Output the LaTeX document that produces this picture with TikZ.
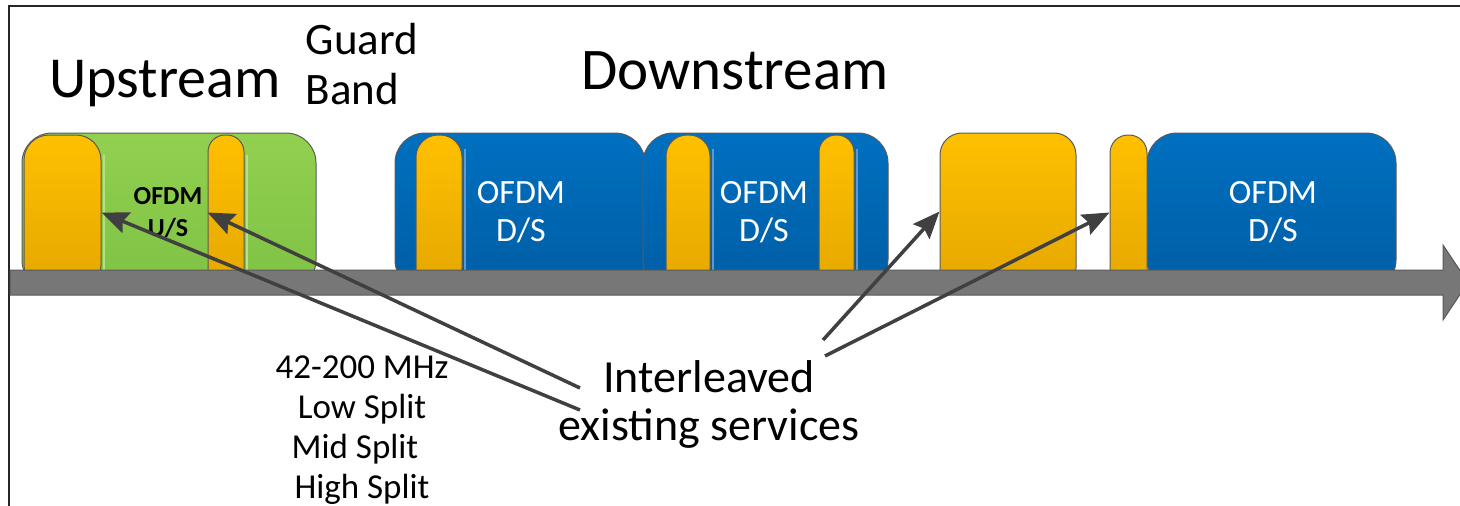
\documentclass[tikz,border=0pt]{standalone}
\usepackage{fontspec}
\setmainfont{Carlito}
\usetikzlibrary{arrows.meta,calc}

\definecolor{usgreen}{HTML}{92D050}
\definecolor{usgreendk}{HTML}{7EC244}
\definecolor{usglint}{HTML}{B4E08A}
\definecolor{svcorange}{HTML}{FFC000}
\definecolor{svcorangedk}{HTML}{E4A700}
\definecolor{dsblue}{HTML}{0070C0}
\definecolor{dsbluedk}{HTML}{005DA4}
\definecolor{dsglint}{HTML}{5B9BD5}
\definecolor{edgegray}{HTML}{5A5A5A}
\definecolor{axisgray}{HTML}{777777}
\definecolor{pointer}{HTML}{404040}

\begin{document}
\begin{tikzpicture}[x=1pt, y=-1pt,
        band/.style={draw=edgegray, line width=1pt, rounded corners=30pt, inner sep=0pt, minimum height=157pt},
        usband/.style={band, top color=usgreen, bottom color=usgreendk},
        dsband/.style={band, top color=dsblue, bottom color=dsbluedk},
        svcbar/.style={draw=edgegray, line width=1pt, inner sep=0pt, minimum height=155pt,
            top color=svcorange, bottom color=svcorangedk},
        usline/.style={draw=usglint, line width=2pt},
        dsline/.style={draw=dsglint, line width=2pt},
        dslabel/.style={text=white, align=center, font=\fontsize{34}{38}\selectfont},
        pointto/.style={draw=pointer, line width=3.5pt, -{Stealth[length=27pt, width=22pt, inset=4pt]}},
    ]
                \useasboundingbox (0,0) rectangle (1460,506);

                % Frame
                \draw[line width=2.5pt, black!85] (9,506) -- (9,6) -- (1460,6);

                % Upstream band
                \node[usband, minimum width=294pt] (us) at (169,211.5) {};
                \node[svcbar, minimum width=77pt, rounded corners=25pt] (u1) at (62.5,212.5) {};
                \node[svcbar, minimum width=36pt, rounded corners=17pt] (u2) at (226,212.5) {};
                \draw[usline] ([xshift=2pt,yshift=-20pt]u1.north east) -- ([xshift=2pt]u1.south east);
                \draw[usline] ([xshift=2pt,yshift=-20pt]u2.north east) -- ([xshift=2pt]u2.south east);

                % Downstream bands
                \node[dsband, minimum width=250pt] (ds1) at (520,211.5) {};
                \node[svcbar, minimum width=46pt, rounded corners=22pt] (d1) at (439,212.5) {};
                \draw[dsline] ([xshift=2.5pt,yshift=-14pt]d1.north east) -- ([xshift=2.5pt]d1.south east);

                \node[dsband, minimum width=245pt] (ds2) at (765.5,211.5) {};
                \node[svcbar, minimum width=44pt, rounded corners=21pt] (d2) at (688,212.5) {};
                \node[svcbar, minimum width=35pt, rounded corners=17pt] (d3) at (836.5,212.5) {};
                \draw[dsline] ([xshift=2.5pt,yshift=-14pt]d2.north east) -- ([xshift=2.5pt]d2.south east);
                \draw[dsline] ([xshift=2.5pt,yshift=-14pt]d3.north east) -- ([xshift=2.5pt]d3.south east);

                \node[svcbar, minimum width=136pt, minimum height=157pt, rounded corners=22pt] (ob) at (1008,211.5) {};

                \node[dsband, minimum width=249pt] (ds3) at (1271.5,211.5) {};
                \node[svcbar, minimum width=37pt, rounded corners=18pt] (sb) at (1128.5,212.5) {};

                % Frequency axis
                \draw[fill=axisgray, draw=edgegray, line width=1pt]
                    (10,270) -- (1443,270) -- (1443,245) -- (1468,282.5) -- (1443,320) -- (1443,295) -- (10,295) -- cycle;

                % Labels
                \node[font=\fontsize{58}{62}\selectfont, anchor=base] (up) at (165,97) {Upstream};
                \node[font=\fontsize{45}{50}\selectfont, align=left] (guard) at (362,64) {Guard\\Band};
                \node[font=\fontsize{59}{62}\selectfont, anchor=base] (down) at (735,89) {Downstream};

                \node[font=\fontsize{26}{32}\selectfont\bfseries, align=center] (ofdmu) at (168,213) {OFDM\\U/S};
                \node[dslabel] (ofdm1) at (521,212) {OFDM\\D/S};
                \node[dslabel] (ofdm2) at (764,212) {OFDM\\D/S};
                \node[dslabel] (ofdm3) at (1273,212) {OFDM\\D/S};

                \node[font=\fontsize{35}{40}\selectfont, align=center] (splits) at (362,430)
                    {42-200 MHz\\Low Split\\Mid Split\rule{14pt}{0pt}\\High Split};
                \node[font=\fontsize{46}{48}\selectfont, align=center] (legacy) at (709,404) {Interleaved\\existing services};

                % Pointers
                \draw[pointto] ($(legacy.center)+(-129,6)$) -- (u1.east);
                \draw[pointto] ($(legacy.center)+(-129,-16)$) -- (u2.west);
                \draw[pointto] ($(legacy.center)+(114,-64)$) -- (ob.west);
                \draw[pointto] ($(legacy.center)+(116,-48)$) -- (sb.west);
\end{tikzpicture}
\end{document}
